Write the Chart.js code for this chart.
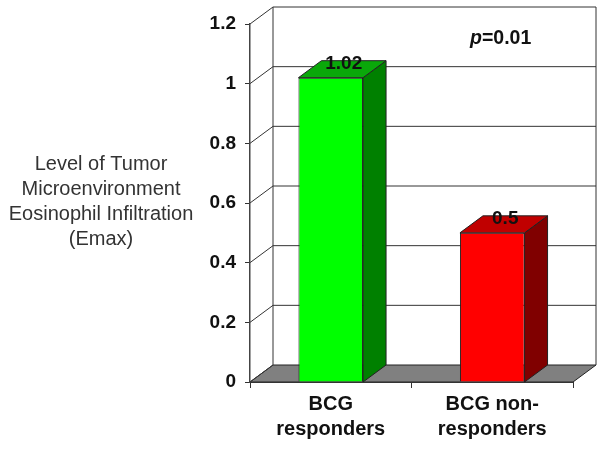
<!DOCTYPE html>
<html>
<head>
<meta charset="utf-8">
<script src="https://cdn.jsdelivr.net/npm/chart.js@4"></script>
<style>
  html, body { margin: 0; padding: 0; background: #fff; }
  canvas { display: block; filter: blur(0.4px); }
</style>
</head>
<body>
<canvas id="myChart" width="604" height="450"></canvas>
<script>
// dados
var categorias = [["BCG", "responders"], ["BCG non-", "responders"]];
var valores = [1.02, 0.5];
var rotulos = ["1.02", "0.5"];
var ticksY = ["0", "0.2", "0.4", "0.6", "0.8", "1", "1.2"];
var tituloY = ["Level of Tumor", "Microenvironment", "Eosinophil Infiltration", "(Emax)"];

// cores
var frente = ["#00ff00", "#ff0000"];
var lado = ["#008000", "#800000"];
var topo = ["#0aa80a", "#c00000"];
var fonte = "'Liberation Sans', Arial, sans-serif";
var linha = "#333";

// profundidade do efeito 3D
var dx = 23;
var dy = -17;

function poligono(ctx, pts, cor) {
  ctx.beginPath();
  ctx.moveTo(pts[0][0], pts[0][1]);
  for (var i = 1; i < pts.length; i++) ctx.lineTo(pts[i][0], pts[i][1]);
  ctx.closePath();
  ctx.fillStyle = cor;
  ctx.fill();
  ctx.strokeStyle = "#222";
  ctx.lineWidth = 1;
  ctx.stroke();
}

// parede do fundo e chao
var parede = {
  id: "parede",
  beforeDraw(chart) {
    var ctx = chart.ctx;
    var a = chart.chartArea;
    var y = chart.scales.y;
    ctx.save();
    poligono(ctx, [[a.left, a.bottom], [a.right, a.bottom], [a.right + dx, a.bottom + dy], [a.left + dx, a.bottom + dy]], "#808080");
    ctx.strokeStyle = linha;
    ctx.lineWidth = 1;
    y.ticks.forEach(function (t) {
      var py = y.getPixelForValue(t.value);
      ctx.beginPath();
      ctx.moveTo(a.left, py);
      ctx.lineTo(a.left + dx, py + dy);
      if (t.value > 0) ctx.lineTo(a.right + dx, py + dy);
      ctx.stroke();
    });
    ctx.beginPath();
    ctx.moveTo(a.left + dx, a.top + dy);
    ctx.lineTo(a.left + dx, a.bottom + dy);
    ctx.moveTo(a.right + dx, a.top + dy);
    ctx.lineTo(a.right + dx, a.bottom + dy);
    ctx.stroke();
    ctx.restore();
  }
};

// faces das barras e textos
var barras3d = {
  id: "barras3d",
  afterDatasetsDraw(chart) {
    var ctx = chart.ctx;
    var base = chart.scales.y.getPixelForValue(0);
    ctx.save();
    chart.getDatasetMeta(0).data.forEach(function (b, i) {
      var e = b.x - b.width / 2;
      var d = b.x + b.width / 2;
      poligono(ctx, [[d, b.y], [d + dx, b.y + dy], [d + dx, base + dy], [d, base]], lado[i]);
      poligono(ctx, [[e, b.y], [e + dx, b.y + dy], [d + dx, b.y + dy], [d, b.y]], topo[i]);
    });
    ctx.textBaseline = "middle";
    ctx.textAlign = "center";
    ctx.fillStyle = "#111";
    ctx.font = "bold 19px " + fonte;
    chart.getDatasetMeta(0).data.forEach(function (b, i) {
      ctx.fillText(rotulos[i], b.x + 13, b.y - 14);
    });

    // valor de p
    var t1 = "p";
    var t2 = "=0.01";
    ctx.textAlign = "left";
    ctx.font = "italic bold 19.5px " + fonte;
    var l1 = ctx.measureText(t1).width;
    ctx.fillText(t1, 470, 39);
    ctx.font = "bold 19.5px " + fonte;
    ctx.fillText(t2, 470 + l1, 39);

    // titulo do eixo
    ctx.textAlign = "center";
    ctx.fillStyle = "#333";
    ctx.font = "20px " + fonte;
    var ys = [164, 189, 214, 239];
    tituloY.forEach(function (s, i) {
      ctx.fillText(s, 101, ys[i]);
    });
    ctx.restore();
  }
};

new Chart(document.getElementById("myChart"), {
  type: "bar",
  data: {
    labels: categorias,
    datasets: [{
      data: valores,
      backgroundColor: frente,
      borderColor: "#222",
      borderWidth: 1,
      barPercentage: 1,
      categoryPercentage: 0.4
    }]
  },
  options: {
    responsive: false,
    animation: false,
    layout: { padding: { top: 24, right: 31 } },
    plugins: { legend: { display: false }, tooltip: { enabled: false } },
    scales: {
      y: {
        min: 0,
        max: 1.2,
        afterFit: function (s) { s.width = 250; },
        afterBuildTicks: function (s) {
          s.ticks = ticksY.map(function (t) { return { value: Number(t) }; });
        },
        grid: { drawOnChartArea: false, tickLength: 5, color: linha },
        border: { color: "#444", width: 1.5 },
        ticks: {
          padding: 9,
          color: "#111",
          font: { family: fonte, size: 19, weight: "bold" },
          callback: function (v, i) { return ticksY[i]; }
        }
      },
      x: {
        afterFit: function (s) { s.height = 68; },
        grid: { drawOnChartArea: false, tickLength: 6, color: linha },
        border: { color: linha },
        ticks: {
          padding: 4,
          maxRotation: 0,
          color: "#111",
          font: { family: fonte, size: 20, weight: "bold", lineHeight: 1.25 }
        }
      }
    }
  },
  plugins: [parede, barras3d]
});
</script>
</body>
</html>
